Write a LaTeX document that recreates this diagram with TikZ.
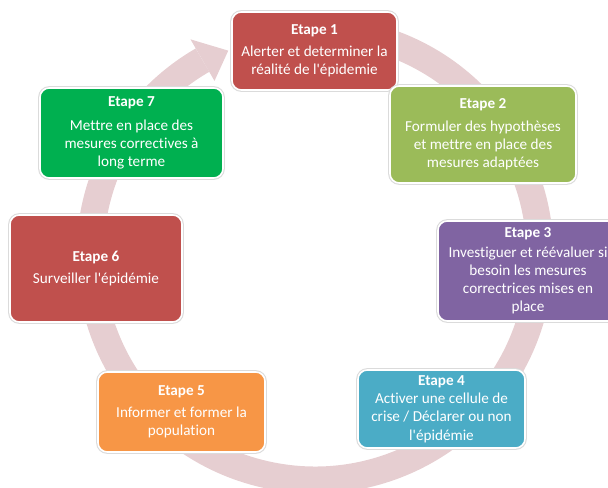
\documentclass[tikz,border=0pt]{standalone}
\usepackage{fontspec}
\setmainfont{Carlito}[Ligatures=NoCommon]
\definecolor{ringpink}{RGB}{230,206,209}
\definecolor{redbox}{HTML}{C0504D}
\definecolor{olivebox}{HTML}{9BBB59}
\definecolor{purplebox}{HTML}{8064A2}
\definecolor{bluebox}{HTML}{4BACC6}
\definecolor{orangebox}{HTML}{F79646}
\definecolor{greenbox}{HTML}{00B050}
\begin{document}
\begin{tikzpicture}[x=0.75pt, y=0.75pt,
    etape/.style={rounded corners=7pt, draw=white, line width=1.2pt, text=white, align=center, inner sep=2pt,
      font=\fontsize{11.4}{13.7}\selectfont, preaction={draw=black!14, line width=2.8pt}},
    ring/.style={ringpink, line width=20.25pt}]
    \useasboundingbox (0,0) rectangle (608,488);
    \clip (0,0) rectangle (608,488);
    \coordinate (C) at (315,233);
%    
    \draw [ring] (C) ++(80:225) arc [start angle=80, end angle=-240, radius=168.75pt];
    \fill [ringpink, shift={(315,233)}] (120:249) -- (113:222) -- (120:201) -- cycle;
%
    \node (E1) at (314.5,437) [etape, fill=redbox, minimum width=123.75pt, minimum height=58.5pt] {\textbf{Etape 1}\\[3pt] Alerter et determiner la\\ réalité de l\textquotesingle épidemie};
    \node (E2) at (483,353.5) [etape, fill=olivebox, minimum width=139.5pt, minimum height=72.75pt] {\textbf{Etape 2}\\[3pt] Formuler des hypothèses\\ et mettre en place des\\ mesures adaptées};
    \node (E3) at (528,217) [etape, fill=purplebox, minimum width=135pt, minimum height=75pt] {\textbf{Etape 3}\\[1pt] Investiguer et réévaluer si\\ besoin les mesures\\ correctrices mises en\\ place};
    \node (E4) at (441.5,79) [etape, fill=bluebox, minimum width=125.25pt, minimum height=58.5pt] {\textbf{Etape 4}\\ Activer une cellule de\\ crise / Déclarer ou non\\ l\textquotesingle épidémie};
    \node (E5) at (181.5,76) [etape, fill=orangebox, minimum width=125.25pt, minimum height=60pt] {\textbf{Etape 5}\\[3pt] Informer et former la\\ population};
    \node (E6) at (96,219.5) [etape, fill=redbox, minimum width=129pt, minimum height=80.25pt] {\textbf{Etape 6}\\[3pt] Surveiller l\textquotesingle épidémie};
    \node (E7) at (131.5,355) [etape, fill=greenbox, minimum width=137.25pt, minimum height=67.5pt] {\textbf{Etape 7}\\[4pt] Mettre en place des\\ mesures correctives à\\ long terme};
\end{tikzpicture}
\end{document}
